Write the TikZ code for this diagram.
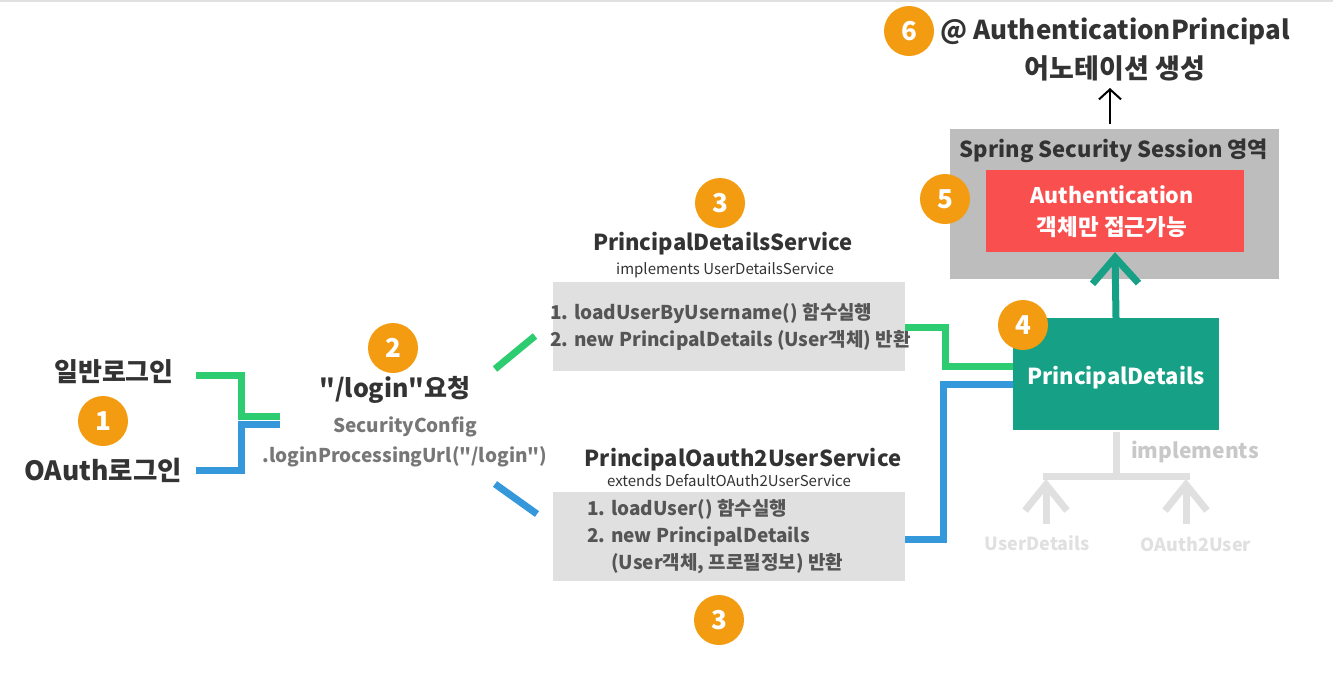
\documentclass[tikz,border=0pt]{standalone}
\usepackage{fontspec}
\setmainfont{Noto Sans CJK KR}[Ligatures=TeXOff]
\usetikzlibrary{positioning, arrows.meta}
\definecolor{badgeorange}{HTML}{F39C12}
\definecolor{flowgreen}{HTML}{2ECC71}
\definecolor{flowblue}{HTML}{3498DB}
\definecolor{detailsteal}{HTML}{16A085}
\definecolor{authred}{HTML}{FA4F4F}
\definecolor{sessiongray}{HTML}{BDBDBD}
\definecolor{boxgray}{HTML}{E0E0E0}
\definecolor{darktext}{HTML}{333333}
\definecolor{midtext}{HTML}{555555}
\definecolor{softtext}{HTML}{777777}
\definecolor{ghosttext}{HTML}{C8C8C8}
\newcommand{\fsz}[1]{\fontsize{#1}{#1}\selectfont}
\tikzset{badge/.style = {circle, fill=badgeorange, text=white, minimum size=50pt, inner sep=0pt, font=\fsz{26}\bfseries}}
\tikzset{title text/.style = {text=darktext, inner sep=0pt, font=\fsz{22}\bfseries}}
\tikzset{sub text/.style = {text=darktext, inner sep=0pt, font=\fsz{15}}}
\tikzset{step text/.style = {text=midtext, inner sep=0pt, align=left, font=\fontsize{19}{27}\selectfont\bfseries}}
\tikzset{service box/.style = {fill=boxgray, minimum width=352pt, minimum height=89pt, inner sep=0pt}}
\tikzset{green flow/.style = {draw=flowgreen, line width=7pt}}
\tikzset{blue flow/.style = {draw=flowblue, line width=7pt}}
\tikzset{ghost arrow/.style = {draw=boxgray, line width=7pt, -{Straight Barb[length=26pt, width=42pt]}}}

\begin{document}
\begin{tikzpicture}[x=1pt, y=-1pt]
      \useasboundingbox (0,0) rectangle (1333,673);
      \draw[boxgray, line width=2pt] (0,1) -- (1333,1);

      % login entry points
      \node[title text, font=\fsz{26}\bfseries] (formLogin) at (114,372) {일반로그인};
      \node[badge] (step1) at (103,421) {1};
      \node[title text, font=\fsz{26.5}\bfseries] (oauthLogin) at (103,470) {OAuth로그인};
      \coordinate (formEnd) at (196,375);
      \coordinate (oauthEnd) at (196,470.5);
      \coordinate (formJoin) at (280,416.5);
      \coordinate (oauthJoin) at (280,424);
      \draw[green flow] (formEnd) -| (241,416.5) -- (formJoin);
      \draw[blue flow] (oauthEnd) -| (241,424) -- (oauthJoin);

      % login request
      \node[badge] (step2) at (393,348) {2};
      \node[title text, font=\fsz{25}\bfseries] (loginReq) at (395,390) {"/login"요청};
      \node[text=softtext, inner sep=0pt, font=\fsz{19}\bfseries] (secConfig) at (405,427) {SecurityConfig};
      \node[text=softtext, inner sep=0pt, font=\fsz{19}\bfseries] (procUrl) [below=9pt of secConfig] {.loginProcessingUrl("/login")};
      \coordinate (reqUp) at (495,369);
      \coordinate (reqDown) at (495,484);
      \coordinate (pdsIn) at (535,336);
      \coordinate (pousIn) at (537,514);
      \draw[green flow] (reqUp) -- (pdsIn);
      \draw[blue flow] (reqDown) -- (pousIn);

      % PrincipalDetailsService
      \node[badge] (step3a) at (720,203) {3};
      \node[title text] (pdsTitle) at (723,244) {PrincipalDetailsService};
      \node[sub text] (pdsSub) at (725,270) {implements UserDetailsService};
      \node[service box] (pdsBox) at (729,326.5) {};
      \node[step text, anchor=west] (pdsSteps) at (550,327) {1. loadUserByUsername() 함수실행\\2. new PrincipalDetails (User객체) 반환};

      % PrincipalOauth2UserService
      \node[title text] (pousTitle) at (743,460) {PrincipalOauth2UserService};
      \node[sub text] (pousSub) at (729,481) {extends DefaultOAuth2UserService};
      \node[service box] (pousBox) at (729,536.5) {};
      \node[step text, anchor=west] (pousSteps) at (587,537) {1. loadUser() 함수실행\\2. new PrincipalDetails\\\hspace{24pt}(User객체, 프로필정보) 반환};
      \node[badge] (step3b) at (719,620) {3};

      % PrincipalDetails
      \node[fill=detailsteal, minimum width=206pt, minimum height=112pt, inner sep=0pt] (details) at (1116,374) {};
      \node[text=white, inner sep=0pt, font=\fsz{22}\bfseries] (detailsText) at (1116,378) {PrincipalDetails};
      \node[badge] (step4) at (1023,325) {4};
      \draw[green flow] (pdsBox.east |- 0,327) -| (945,366.5) -- (details.west |- 0,366.5);
      \draw[blue flow] (pousBox.east |- 0,539) -| (943.5,384.5) -- (details.west |- 0,384.5);

      % interfaces
      \coordinate (treeTop) at (1116,432);
      \coordinate (treeMid) at (1116,476);
      \coordinate (udTip) at (1046,479);
      \coordinate (ouTip) at (1186,479);
      \coordinate (udFoot) at (1046,524);
      \coordinate (ouFoot) at (1186,524);
      \draw[boxgray, line width=7pt] (treeTop) -- (treeMid);
      \draw[boxgray, line width=7pt] (1042.5,476) -- (1189.5,476);
      \draw[ghost arrow] (udFoot) -- (udTip);
      \draw[ghost arrow] (ouFoot) -- (ouTip);
      \node[text=ghosttext, inner sep=0pt, font=\fsz{21}\bfseries, anchor=west] (implText) at (1131,452) {implements};
      \node[text=boxgray, inner sep=0pt, font=\fsz{18}\bfseries] (udText) at (1037,543) {UserDetails};
      \node[text=boxgray, inner sep=0pt, font=\fsz{18}\bfseries] (ouText) at (1196,544) {OAuth2User};

      % session area
      \node[fill=sessiongray, minimum width=329pt, minimum height=150pt, inner sep=0pt] (session) at (1114.5,203.5) {};
      \node[title text, font=\fsz{22}\bfseries] (sessionText) at (1114,151) {Spring Security Session 영역};
      \node[fill=authred, minimum width=258pt, minimum height=82pt, inner sep=0pt] (auth) at (1115,211) {};
      \node[text=white, inner sep=0pt, align=center, font=\fontsize{21.5}{32}\selectfont\bfseries] (authText) at (1112,212) {Authentication\\{\fsz{22.5}객체만 접근가능}};
      \node[badge] (step5) at (945,199) {5};
      \draw[detailsteal, line width=7pt, -{Straight Barb[length=26pt, width=46pt]}] (details.north) -- (auth.south);

      % annotation
      \coordinate (sessionTop) at (1110,124);
      \coordinate (annoBottom) at (1110,88);
      \draw[black, line width=2pt, -{Straight Barb[length=10pt, width=22pt]}] (sessionTop) -- (annoBottom);
      \node[badge] (step6) at (909,31) {6};
      \node[title text, font=\fsz{26}\bfseries, anchor=west] (annoText) at (940,31) {@ AuthenticationPrincipal};
      \node[title text, font=\fsz{27}\bfseries] (annoSub) at (1115,68) {어노테이션 생성};
    \end{tikzpicture}
\end{document}
